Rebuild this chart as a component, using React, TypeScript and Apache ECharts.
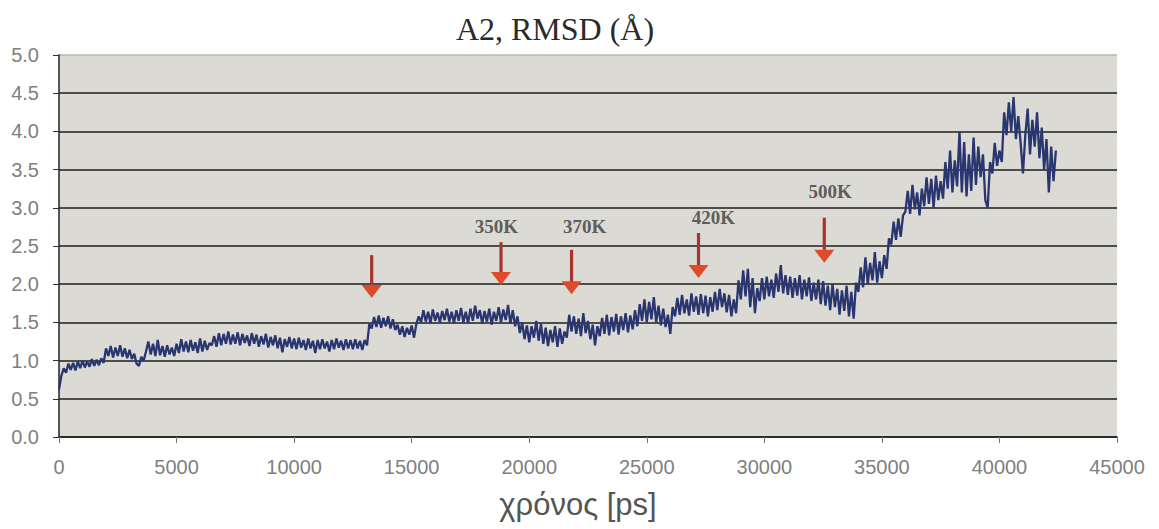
import React, { useEffect, useRef } from "react";
import * as echarts from "echarts";

const TIME_STEP = 100;
const rmsd: number[] = [
  // 0 – 2400
  0.62, 0.80, 0.90, 0.84, 0.96, 0.88, 0.97, 0.87, 0.99, 0.90, 1.00, 0.91, 0.99, 0.92, 1.02, 0.93, 1.01, 0.94, 1.03, 0.97, 1.16, 1.06, 1.19, 1.04, 1.17,
  // 2500 – 4900
  1.06, 1.20, 1.05, 1.16, 1.03, 1.14, 1.02, 1.09, 0.96, 0.93, 1.05, 1.00, 1.12, 1.25, 1.08, 1.22, 1.06, 1.27, 1.07, 1.19, 1.05, 1.20, 1.08, 1.17, 1.06,
  // 5000 – 7400
  1.22, 1.10, 1.28, 1.12, 1.25, 1.11, 1.27, 1.13, 1.24, 1.10, 1.29, 1.12, 1.26, 1.14, 1.23, 1.20, 1.32, 1.18, 1.36, 1.20, 1.35, 1.22, 1.38, 1.21, 1.34,
  // 7500 – 9900
  1.22, 1.37, 1.20, 1.35, 1.23, 1.33, 1.19, 1.36, 1.22, 1.34, 1.18, 1.32, 1.21, 1.35, 1.17, 1.31, 1.20, 1.33, 1.16, 1.30, 1.11, 1.28, 1.18, 1.31, 1.16,
  // 10000 – 12400
  1.29, 1.15, 1.30, 1.17, 1.27, 1.14, 1.29, 1.16, 1.26, 1.10, 1.27, 1.15, 1.28, 1.16, 1.25, 1.12, 1.27, 1.15, 1.29, 1.17, 1.26, 1.14, 1.28, 1.16, 1.27,
  // 12500 – 14900
  1.15, 1.28, 1.16, 1.26, 1.14, 1.27, 1.20, 1.48, 1.42, 1.57, 1.44, 1.59, 1.43, 1.56, 1.45, 1.58, 1.42, 1.54, 1.40, 1.47, 1.34, 1.45, 1.31, 1.43, 1.34,
  // 15000 – 17400
  1.46, 1.30, 1.48, 1.58, 1.50, 1.66, 1.51, 1.64, 1.49, 1.67, 1.52, 1.63, 1.50, 1.65, 1.53, 1.68, 1.51, 1.64, 1.49, 1.66, 1.52, 1.69, 1.50, 1.64, 1.49,
  // 17500 – 19900
  1.68, 1.52, 1.72, 1.55, 1.66, 1.49, 1.65, 1.51, 1.68, 1.47, 1.64, 1.52, 1.70, 1.50, 1.67, 1.53, 1.73, 1.48, 1.66, 1.45, 1.58, 1.36, 1.50, 1.28, 1.46,
  // 20000 – 22400
  1.24, 1.45, 1.30, 1.52, 1.26, 1.48, 1.22, 1.43, 1.19, 1.40, 1.24, 1.45, 1.18, 1.42, 1.22, 1.38, 1.30, 1.60, 1.38, 1.58, 1.35, 1.55, 1.32, 1.62, 1.36,
  // 22500 – 24900
  1.52, 1.28, 1.47, 1.20, 1.45, 1.32, 1.56, 1.35, 1.60, 1.33, 1.57, 1.38, 1.61, 1.34, 1.58, 1.40, 1.62, 1.37, 1.59, 1.41, 1.66, 1.45, 1.74, 1.52, 1.80,
  // 25000 – 27400
  1.50, 1.77, 1.54, 1.83, 1.50, 1.72, 1.46, 1.68, 1.44, 1.60, 1.35, 1.70, 1.58, 1.82, 1.60, 1.86, 1.62, 1.80, 1.59, 1.88, 1.64, 1.84, 1.60, 1.87, 1.62,
  // 27500 – 29900
  1.85, 1.58, 1.83, 1.64, 1.90, 1.66, 1.94, 1.70, 1.88, 1.63, 1.86, 1.58, 1.80, 1.62, 2.05, 1.80, 2.18, 1.84, 2.20, 1.70, 2.08, 1.62, 1.95, 1.78, 2.08,
  // 30000 – 32400
  1.80, 2.10, 1.84, 2.06, 1.82, 2.14, 1.90, 2.25, 1.88, 2.12, 1.86, 2.10, 1.82, 2.08, 1.85, 2.12, 1.80, 2.06, 1.84, 2.09, 1.78, 2.02, 1.80, 2.06, 1.74,
  // 32500 – 34900
  2.04, 1.72, 1.98, 1.66, 2.00, 1.70, 1.94, 1.60, 1.92, 1.65, 1.98, 1.58, 1.90, 1.55, 2.02, 1.90, 2.22, 1.96, 2.35, 2.00, 2.28, 2.05, 2.42, 2.02, 2.30,
  // 35000 – 37400
  2.08, 2.38, 2.20, 2.60, 2.52, 2.82, 2.58, 2.86, 2.62, 2.90, 2.95, 3.22, 2.92, 3.30, 2.98, 3.20, 2.90, 3.25, 3.02, 3.40, 3.05, 3.38, 3.00, 3.42, 3.10,
  // 37500 – 39900
  3.35, 3.12, 3.60, 3.25, 3.75, 3.20, 3.62, 3.28, 4.00, 3.20, 3.86, 3.15, 3.70, 3.22, 3.92, 3.30, 3.80, 3.40, 3.70, 3.10, 3.00, 3.60, 3.45, 3.85, 3.55,
  // 40000 – 42400
  3.75, 3.60, 4.25, 3.95, 4.38, 4.00, 4.45, 3.90, 4.20, 3.85, 3.45, 3.95, 4.30, 3.70, 4.15, 3.80, 4.25, 3.65, 4.05, 3.50, 3.90, 3.20, 3.80, 3.35, 3.75,
];

// Temperature arrows (time, top of shaft, tip)
const arrowTimes = [13300, 18800, 21800, 27200, 32550];
const arrowTops = [2.38, 2.55, 2.45, 2.67, 2.87];
const arrowTips = [1.82, 1.99, 1.87, 2.08, 2.28];

// Arrow labels
const labelNames = ["350K", "370K", "420K", "500K"];
const labelTimes = [18600, 22360, 27830, 32800];
const labelValues = [2.76, 2.76, 2.87, 3.21];

const yTicks = ["0.0", "0.5", "1.0", "1.5", "2.0", "2.5", "3.0", "3.5", "4.0", "4.5", "5.0"];

export default function App() {
  const ref = useRef<HTMLDivElement>(null);

  useEffect(() => {
    document.body.style.margin = "0";
    const chart = echarts.init(ref.current!, null, { renderer: "svg" });
    const lineData = rmsd.map((v, i) => [i * TIME_STEP, v]);
    const arrowData = arrowTimes.map((t, i) => [t, arrowTops[i], arrowTips[i]]);
    const labelData = labelNames.map((n, i) => ({ name: n, value: [labelTimes[i], labelValues[i]] }));

    const splitColors = yTicks.map((_, i) => (i === yTicks.length - 1 ? "#b8b6b0" : "#1e1e1e"));

    chart.setOption({
      animation: false,
      backgroundColor: "#ffffff",
      graphic: [
        {
          type: "text",
          x: 555,
          y: 29,
          style: {
            text: "A2, RMSD (Å)",
            font: "32px 'Liberation Serif', 'DejaVu Serif', serif",
            fill: "#2a2a2a",
            align: "center",
            verticalAlign: "middle",
          },
        },
        {
          type: "text",
          x: 578,
          y: 504,
          style: {
            text: "χρόνος [ps]",
            font: "31px 'Liberation Sans', Arial, sans-serif",
            fill: "#555",
            align: "center",
            verticalAlign: "middle",
          },
        },
      ],
      grid: {
        left: 59,
        right: 42,
        top: 55,
        bottom: 92,
        show: true,
        backgroundColor: "#dcdad4",
        borderWidth: 0,
      },
      xAxis: {
        type: "value",
        min: 0,
        max: 45000,
        interval: 5000,
        axisLine: { show: true, lineStyle: { color: "#222", width: 1.5 } },
        axisTick: { show: true, length: 6, lineStyle: { color: "#777", width: 1 } },
        axisLabel: {
          color: "#808080",
          fontSize: 20,
          fontFamily: "'Liberation Sans', Arial, sans-serif",
          margin: 20,
          formatter: (v: number) => String(v),
        },
        splitLine: { show: false },
      },
      yAxis: {
        type: "value",
        min: 0,
        max: 5,
        interval: 0.5,
        axisLine: { show: true, lineStyle: { color: "#222", width: 1.5 } },
        axisTick: { show: true, length: 6, lineStyle: { color: "#333", width: 1 } },
        axisLabel: {
          color: "#808080",
          fontSize: 20,
          fontFamily: "'Liberation Sans', Arial, sans-serif",
          margin: 20,
          formatter: (v: number) => yTicks[Math.round(v * 2)] ?? v.toFixed(1),
        },
        splitLine: { show: true, lineStyle: { color: splitColors, width: 1.6 } },
      },
      series: [
        {
          type: "line",
          data: lineData,
          showSymbol: false,
          symbol: "none",
          lineStyle: { color: "#2a3670", width: 2.3 },
          z: 3,
        },
        {
          type: "custom",
          data: arrowData,
          encode: { x: 0, y: [1, 2] },
          z: 5,
          renderItem: (params: any, api: any) => {
            const t = api.value(0);
            const pTop = api.coord([t, api.value(1)]);
            const pTip = api.coord([t, api.value(2)]);
            const headH = 13;
            const headW = 20;
            return {
              type: "group",
              children: [
                {
                  type: "rect",
                  shape: { x: pTop[0] - 1.6, y: pTop[1], width: 3.2, height: pTip[1] - headH - pTop[1] + 1 },
                  style: { fill: "#a8352c" },
                },
                {
                  type: "polygon",
                  shape: {
                    points: [
                      [pTip[0] - headW / 2, pTip[1] - headH],
                      [pTip[0] + headW / 2, pTip[1] - headH],
                      [pTip[0], pTip[1]],
                    ],
                  },
                  style: { fill: "#df4a2b" },
                },
              ],
            };
          },
        },
        {
          type: "scatter",
          data: labelData,
          symbolSize: 1,
          itemStyle: { color: "rgba(0,0,0,0)" },
          z: 6,
          label: {
            show: true,
            position: "inside",
            formatter: "{b}",
            color: "#3a3a3a",
            fontSize: 19,
            fontWeight: "bold",
            fontFamily: "'Liberation Serif', 'DejaVu Serif', serif",
          },
        },
      ],
    });
    return () => chart.dispose();
  }, []);

  return <div ref={ref} style={{ width: 1159, height: 529 }} />;
}
